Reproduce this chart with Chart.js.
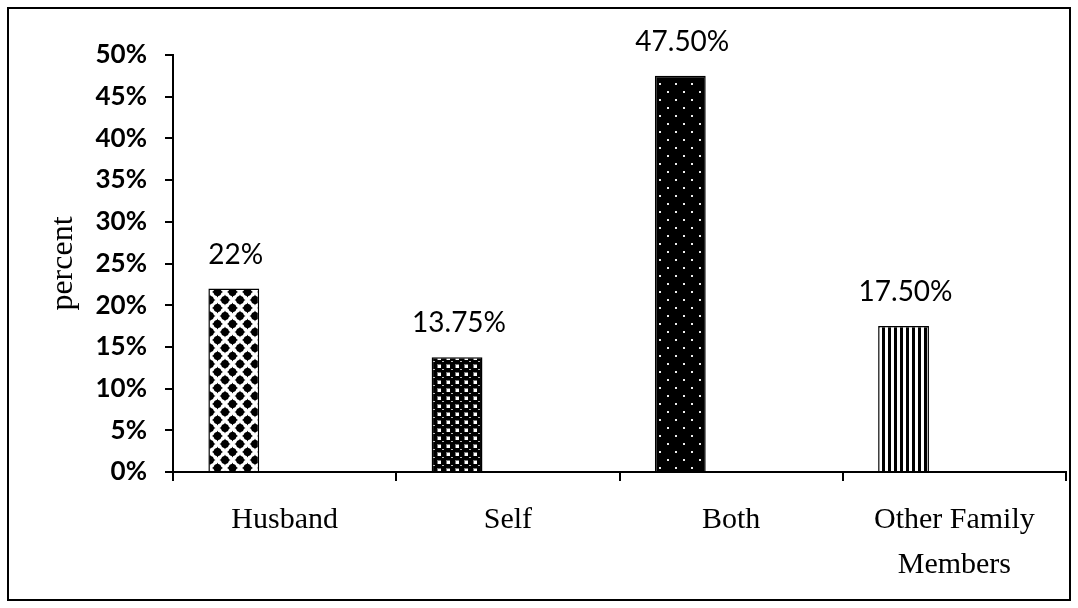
<!DOCTYPE html>
<html>
<head>
<meta charset="utf-8">
<script src="https://cdn.jsdelivr.net/npm/chart.js@4/dist/chart.umd.min.js"></script>
<style>
  html, body { margin: 0; padding: 0; background: #fff; }
  #wrap { width: 1078px; height: 608px; position: relative; }
</style>
</head>
<body>
<div id="wrap"><canvas id="chart" width="1078" height="608"></canvas></div>
<script>
// Who makes the decision — share of respondents
const categories = ['Husband', 'Self', 'Both', ['Other Family', 'Members']];
const percentValues = [22, 13.75, 47.5, 17.5];
const yTicks = [0, 5, 10, 15, 20, 25, 30, 35, 40, 45, 50];

// Monochrome fill patterns, one per bar
function makePattern(w, h, paint) {
  const c = document.createElement('canvas');
  c.width = w; c.height = h;
  const g = c.getContext('2d');
  paint(g, w, h);
  return g.createPattern(c, 'repeat');
}
const diamondPattern = makePattern(15, 16, (g, w, h) => {
  g.fillStyle = '#fff'; g.fillRect(0, 0, w, h);
  g.fillStyle = '#000';
  const blob = (x, y) => {
    g.beginPath();
    g.moveTo(x, y - 5.5); g.quadraticCurveTo(x + 1.5, y - 1.5, x + 5.5, y);
    g.quadraticCurveTo(x + 1.5, y + 1.5, x, y + 5.5);
    g.quadraticCurveTo(x - 1.5, y + 1.5, x - 5.5, y);
    g.quadraticCurveTo(x - 1.5, y - 1.5, x, y - 5.5);
    g.fill();
    g.beginPath(); g.arc(x, y, 3.9, 0, Math.PI * 2); g.fill();
  };
  [[7.5, 4], [0, 12], [15, 12], [7.5, 20], [0, -4], [15, -4]].forEach(p => blob(p[0], p[1]));
});
const spherePattern = makePattern(9, 8, (g, w, h) => {
  g.fillStyle = '#000'; g.fillRect(0, 0, w, h);
  g.fillStyle = '#fff';
  g.fillRect(5, 4, 4, 4);
  g.fillStyle = '#bbb';
  g.fillRect(1, 1, 2, 1);
  g.fillStyle = '#777';
  g.fillRect(5, 4, 4, 1); g.fillRect(5, 4, 1, 4);
});
const dottedPattern = makePattern(16, 16, (g, w, h) => {
  g.fillStyle = '#000'; g.fillRect(0, 0, w, h);
  g.fillStyle = '#eee';
  g.fillRect(3, 3, 2, 2); g.fillRect(11, 11, 2, 2);
});
const stripePattern = makePattern(6, 6, (g, w, h) => {
  g.fillStyle = '#fff'; g.fillRect(0, 0, w, h);
  g.fillStyle = '#000'; g.fillRect(0, 0, 3, h);
});
const barFills = [diamondPattern, spherePattern, dottedPattern, stripePattern];

const fmtPct = v => (Number.isInteger(v) ? String(v) : v.toFixed(2)) + '%';

// Outer frame around the whole figure
const framePlugin = {
  id: 'frame',
  beforeDraw(chart) {
    const ctx = chart.ctx;
    ctx.save();
    ctx.fillStyle = '#fff';
    ctx.fillRect(0, 0, chart.width, chart.height);
    ctx.strokeStyle = '#000';
    ctx.lineWidth = 2;
    ctx.strokeRect(8, 8, 1062, 592);
    ctx.restore();
  }
};

// Percentage labels above each bar
const valueLabels = {
  id: 'valueLabels',
  afterDatasetsDraw(chart) {
    const ctx = chart.ctx;
    const meta = chart.getDatasetMeta(0);
    ctx.save();
    ctx.font = '28px Lato, "Open Sans", sans-serif';
    ctx.fillStyle = '#000';
    ctx.textAlign = 'center';
    ctx.textBaseline = 'middle';
    meta.data.forEach((bar, i) => {
      ctx.fillText(fmtPct(percentValues[i]), bar.x + 2, bar.y - 34);
    });
    ctx.restore();
  }
};

new Chart(document.getElementById('chart'), {
  type: 'bar',
  data: {
    labels: categories,
    datasets: [
      {
        label: 'percent',
        data: percentValues,
        backgroundColor: barFills,
        borderColor: '#000',
        borderWidth: 1.5
      },
      { label: 'unused-a', data: percentValues.map(() => null) },
      { label: 'unused-b', data: percentValues.map(() => null) }
    ]
  },
  options: {
    responsive: false,
    animation: false,
    devicePixelRatio: 1,
    categoryPercentage: 0.683,
    barPercentage: 1,
    layout: { padding: { left: 0, top: 55, right: 12, bottom: 0 } },
    plugins: {
      legend: { display: false },
      tooltip: { enabled: false }
    },
    scales: {
      x: {
        grid: {
          drawOnChartArea: false,
          drawTicks: true,
          tickLength: 9,
          color: '#000',
          lineWidth: 2,
          offset: true
        },
        border: { color: '#000', width: 2 },
        ticks: {
          color: '#000',
          padding: 17,
          maxRotation: 0,
          autoSkip: false,
          font: { family: '"Liberation Serif", "Times New Roman", serif', size: 30, lineHeight: 1.5 }
        },
        afterFit(scale) { scale.height = 136; }
      },
      y: {
        min: 0,
        max: 50,
        afterBuildTicks(scale) { scale.ticks = yTicks.map(v => ({ value: v })); },
        grid: {
          drawOnChartArea: false,
          drawTicks: true,
          tickLength: 8,
          color: '#000',
          lineWidth: 2
        },
        border: { color: '#000', width: 2 },
        ticks: {
          color: '#000',
          padding: 18,
          callback: v => v + '%',
          font: { family: 'Lato, "Open Sans", sans-serif', size: 26, weight: 'bold' }
        },
        title: {
          display: true,
          text: 'percent',
          color: '#000',
          padding: { top: 44, bottom: 0 },
          font: { family: '"Liberation Serif", "Times New Roman", serif', size: 32 }
        },
        afterFit(scale) { scale.width = 173; }
      }
    }
  },
  plugins: [framePlugin, valueLabels]
});
</script>
</body>
</html>
